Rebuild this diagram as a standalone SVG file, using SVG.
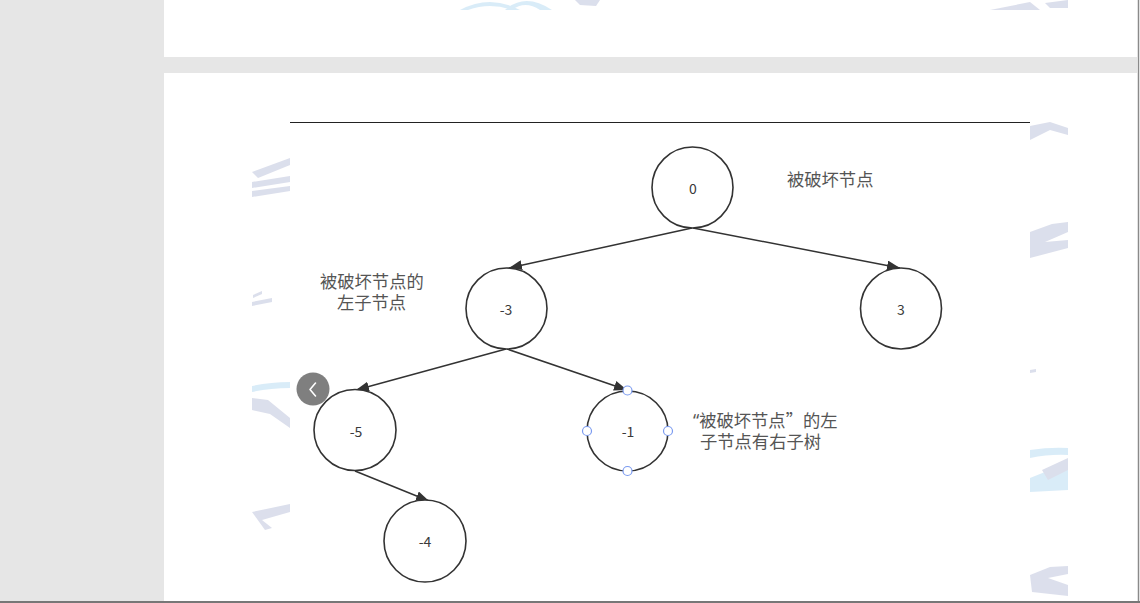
<svg xmlns="http://www.w3.org/2000/svg" width="1140" height="603" viewBox="0 0 1140 603">
  <style>
    .node { fill: #ffffff; stroke: #333333; stroke-width: 1.6; }
    .num { font-family: "Noto Sans CJK SC", "Noto Sans", sans-serif; font-size: 14px; fill: #3a3a3a; text-anchor: middle; }
    .lbl { font-family: "Noto Sans", "Noto Sans CJK SC", sans-serif; font-size: 17.3px; fill: #555555; }
    .cjk { font-family: "Noto Sans CJK SC", sans-serif; }
    .edge { stroke: #333333; stroke-width: 1.5; fill: none; marker-end: url(#arrow); }
    .handle { fill: #ffffff; stroke: #7b9bf0; stroke-width: 1.2; }
    .wmg { fill: #c9cee2; }
    .wmb { fill: #c6e3f5; }
  </style>
  <defs>
    <marker id="arrow" markerUnits="userSpaceOnUse" markerWidth="14" markerHeight="10" refX="13" refY="5" orient="auto">
      <path d="M0,0 L13,5 L0,10 z" fill="#333333"/>
    </marker>
  </defs>

  <!-- viewer background and pages -->
  <rect x="0" y="0" width="1140" height="603" fill="#e6e6e6"/>
  <rect x="164" y="0" width="974" height="57" fill="#ffffff"/>
  <rect x="164" y="73" width="974" height="530" fill="#ffffff"/>

  <!-- faint watermark fragments -->
  <g id="watermarks" opacity="0.65">
    <path class="wmb" d="M460,10 Q490,-6 520,10 L512,10 Q490,2 468,10 z"/>
    <path class="wmb" d="M505,10 Q525,-8 552,10 L540,10 Q525,0 512,10 z"/>
    <path class="wmg" d="M575,0 L600,0 L596,6 L580,5 z"/>
    <path class="wmg" d="M990,10 L1030,2 L1040,10 z"/>
    <path class="wmg" d="M1045,3 L1068,0 L1068,8 L1050,8 z"/>
    <path class="wmg" d="M252,172 L290,158 L290,165 L258,178 z"/>
    <path class="wmg" d="M252,182 L290,176 L290,182 L252,188 z"/>
    <path class="wmg" d="M252,191 L290,186 L290,191 L252,197 z"/>
    <path class="wmg" d="M252,302 L272,298 L272,302 L252,306 z"/>
    <path class="wmg" d="M253,295 L262,291 L262,294 L253,298 z"/>
    <path class="wmb" d="M252,386 Q270,382 290,382 L290,388 Q270,388 252,392 z"/>
    <path class="wmg" d="M252,398 L268,400 L290,418 L290,428 L270,414 L252,410 z"/>
    <path class="wmg" d="M252,512 L290,504 L290,512 L262,520 L272,528 L265,530 z"/>
    <path class="wmg" d="M1030,126 L1050,122 L1068,128 L1068,135 L1050,130 L1030,140 z"/>
    <path class="wmg" d="M1030,232 L1052,224 L1068,222 L1068,232 L1045,242 L1068,240 L1068,248 L1030,258 z"/>
    <path class="wmg" d="M1030,370 L1036,369 L1036,372 L1030,373 z"/>
    <path class="wmb" d="M1030,450 Q1050,447 1068,448 L1068,455 Q1050,454 1030,458 z"/>
    <path class="wmb" d="M1030,478 L1050,470 L1068,460 L1068,490 L1030,492 z"/>
    <path class="wmg" d="M1042,470 L1068,458 L1068,470 L1048,480 z"/>
    <path class="wmg" d="M1030,575 L1050,567 L1068,566 L1068,574 L1048,578 L1068,585 L1068,596 L1032,592 z"/>
  </g>

  <!-- diagram image area -->
  <rect x="290" y="122" width="740" height="481" fill="#ffffff"/>
  <line x1="290" y1="122.5" x2="1030" y2="122.5" stroke="#222222" stroke-width="1"/>

  <g id="connectors">
    <line class="edge" x1="692" y1="228" x2="509" y2="268"/>
    <line class="edge" x1="693" y1="228" x2="900" y2="268"/>
    <line class="edge" x1="506" y1="349" x2="356" y2="390"/>
    <line class="edge" x1="507" y1="349" x2="627" y2="390"/>
    <line class="edge" x1="355" y1="471" x2="429" y2="501"/>
  </g>

  <g id="node-0">
    <ellipse class="node" cx="692.5" cy="187.5" rx="40.5" ry="40.5"/>
    <text class="num" x="693" y="194">0</text>
  </g>
  <g id="node-m3">
    <ellipse class="node" cx="506.5" cy="308.5" rx="40.5" ry="40.5"/>
    <text class="num" x="506" y="315">-3</text>
  </g>
  <g id="node-3">
    <ellipse class="node" cx="901" cy="308.5" rx="40.5" ry="40.5"/>
    <text class="num" x="901" y="315">3</text>
  </g>
  <g id="node-m5">
    <ellipse class="node" cx="355" cy="430" rx="41" ry="40.5"/>
    <text class="num" x="356" y="437">-5</text>
  </g>
  <g id="node-m1">
    <ellipse class="node" cx="627.5" cy="431" rx="40.5" ry="40"/>
    <text class="num" x="628" y="437">-1</text>
    <circle class="handle" cx="627.5" cy="390.5" r="4.5"/>
    <circle class="handle" cx="587" cy="431" r="4.5"/>
    <circle class="handle" cx="668" cy="431" r="4.5"/>
    <circle class="handle" cx="627.5" cy="471" r="4.5"/>
  </g>
  <g id="node-m4">
    <ellipse class="node" cx="425" cy="541" rx="41" ry="41"/>
    <text class="num" x="425" y="547">-4</text>
  </g>

  <g id="labels">
    <text class="lbl" x="787" y="186">被破坏节点</text>
    <text class="lbl"><tspan x="320" y="288">被破坏节点的</tspan><tspan x="337" y="309">左子节点</tspan></text>
    <text class="lbl"><tspan x="693" y="427">“被破坏节点<tspan class="cjk">”</tspan>的左</tspan><tspan x="700" y="448">子节点有右子树</tspan></text>
  </g>

  <!-- viewer back button -->
  <g id="back-button">
    <circle cx="313" cy="389" r="16.5" fill="#7f7f7f"/>
    <polyline points="315.5,383 310,389.5 315.5,396" fill="none" stroke="#ffffff" stroke-width="1.6" stroke-linecap="round" stroke-linejoin="round"/>
  </g>

  <!-- viewer borders -->
  <rect x="1137" y="0" width="3" height="603" fill="#ffffff"/>
  <line x1="1138.5" y1="0" x2="1138.5" y2="603" stroke="#8a8a8a" stroke-width="1.5"/>
  <rect x="0" y="601" width="1140" height="2" fill="#777777"/>
</svg>
